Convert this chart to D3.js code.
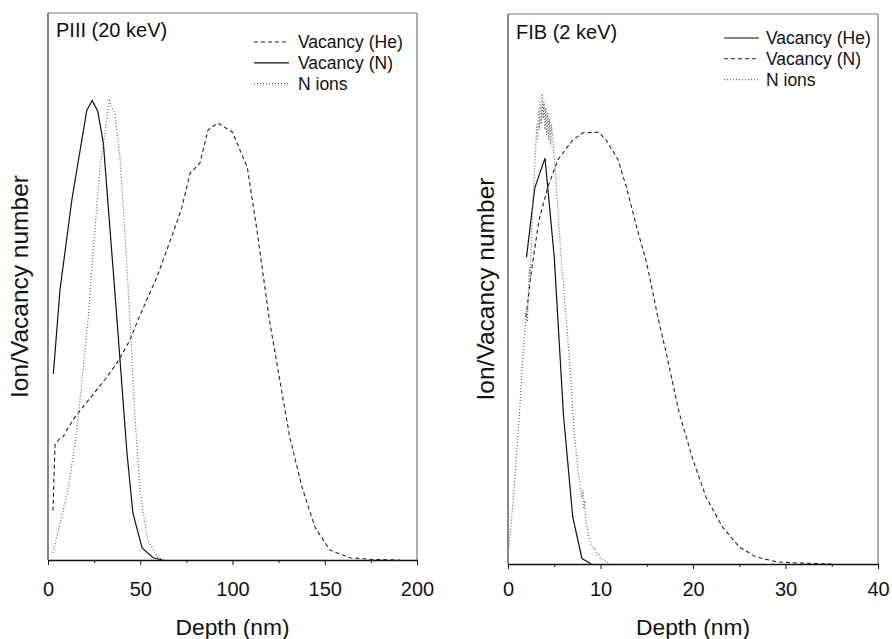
<!DOCTYPE html>
<html>
<head>
<meta charset="utf-8">
<script src="https://cdn.jsdelivr.net/npm/d3@7"></script>
<style>
  body { margin: 0; background: #fff; }
  svg text { font-family: "Liberation Sans", Arial, Helvetica, sans-serif; fill: #111; }
</style>
</head>
<body>
<svg width="892" height="639"></svg>
<script>
// PIII (20 keV) panel, depth in nm, counts in arbitrary units
const piiiVacHeDepth = [2.7, 3.8, 6.5, 8.1, 13.5, 19, 30.9, 37.4, 44.4, 48.8, 59, 67.8, 72.6, 77, 82.4, 86.7, 92, 100, 108, 113, 120, 124.7, 131, 137.7, 144.7, 152.8, 163.7, 176, 191]
const piiiVacHe = [0.09, 0.21, 0.223, 0.225, 0.256, 0.28, 0.33, 0.36, 0.402, 0.439, 0.517, 0.598, 0.645, 0.707, 0.726, 0.786, 0.799, 0.782, 0.718, 0.609, 0.439, 0.347, 0.225, 0.133, 0.06, 0.018, 0.004, 0.001, 0]
const piiiVacNDepth = [2.9, 6.5, 13, 21, 24, 27, 30, 37.4, 42.8, 46, 51, 57, 62]
const piiiVacN = [0.34, 0.494, 0.66, 0.822, 0.84, 0.82, 0.762, 0.439, 0.196, 0.086, 0.022, 0.004, 0]
const piiiIonDepth = [2.7, 10.8, 15.7, 18.4, 21.7, 24.4, 28.2, 30.9, 33.2, 36.3, 39, 41.7, 44.4, 47, 50, 54, 59.6, 64]
const piiiIon = [0.013, 0.128, 0.238, 0.329, 0.439, 0.561, 0.718, 0.781, 0.84, 0.814, 0.737, 0.598, 0.439, 0.269, 0.122, 0.037, 0.004, 0]

// FIB (2 keV) panel
const fibVacHeDepth = [2, 2.9, 4, 5, 6, 7, 8, 9]
const fibVacHe = [0.558, 0.684, 0.738, 0.558, 0.27, 0.085, 0.01, 0]
const fibVacNDepth = [1.95, 2.5, 3.35, 4.3, 5.4, 7, 8.1, 9.8, 10.6, 11.9, 12.8, 14, 15, 16.2, 17.1, 18.5, 20, 21.4, 23.2, 25, 26.8, 29, 31, 35]
const fibVacN = [0.449, 0.529, 0.625, 0.685, 0.735, 0.771, 0.784, 0.785, 0.771, 0.735, 0.685, 0.607, 0.547, 0.449, 0.384, 0.275, 0.189, 0.122, 0.067, 0.031, 0.013, 0.004, 0.002, 0]
const fibIonDepth = [0.1, 0.5, 1.0, 1.3, 1.6, 1.8, 2.0, 2.1, 2.3, 2.4, 2.6, 2.8, 3.0, 3.1, 3.2, 3.3, 3.4, 3.5, 3.6, 3.7, 3.8, 3.9, 4.0, 4.1, 4.2, 4.3, 4.4, 4.5, 4.6, 4.7, 4.8, 5.0, 5.2, 5.5, 5.8, 6.0, 6.2, 6.4, 6.6, 6.8, 7.0, 7.2, 7.5, 7.8, 8.0, 8.1, 8.2, 8.3, 8.4, 8.5, 8.7, 9.0, 9.2, 9.4, 9.6, 9.8, 10.0, 10.3, 10.6, 11.0]
const fibIon = [0.03, 0.104, 0.215, 0.29, 0.38, 0.42, 0.46, 0.44, 0.54, 0.52, 0.62, 0.69, 0.76, 0.8, 0.77, 0.83, 0.79, 0.84, 0.8, 0.855, 0.81, 0.84, 0.79, 0.83, 0.78, 0.82, 0.77, 0.81, 0.76, 0.8, 0.78, 0.74, 0.69, 0.62, 0.54, 0.51, 0.46, 0.425, 0.38, 0.33, 0.28, 0.235, 0.18, 0.14, 0.12, 0.135, 0.1, 0.115, 0.08, 0.07, 0.05, 0.035, 0.028, 0.03, 0.015, 0.02, 0.01, 0.008, 0.004, 0.001]

const piiiTicks = [0, 50, 100, 150, 200]
const piiiMinor = [25, 75, 125, 175]
const fibTicks = [0, 10, 20, 30, 40]
const fibMinor = [5, 15, 25, 35]

const piiiLegend = ["Vacancy (He)", "Vacancy (N)", "N ions"]
const fibLegend = ["Vacancy (He)", "Vacancy (N)", "N ions"]

const styles = {
  solid: { stroke: "#111", width: 1.2, dash: null },
  dashed: { stroke: "#222", width: 1.1, dash: "4,3" },
  dotted: { stroke: "#666", width: 1.2, dash: "1,2" }
}

var svg = d3.select("svg")

function drawPanel(p) {
  let x = d3.scaleLinear().domain([0, p.xMax]).range([p.left, p.right])
  let y = d3.scaleLinear().domain([0, 1]).range([p.bottom, p.top])
  let g = svg.append("g")

  // frame: gray left/top/right, black axis at the bottom
  g.append("line").attr("x1", p.left).attr("x2", p.left).attr("y1", p.top).attr("y2", p.bottom)
    .attr("stroke", "#888").attr("stroke-width", 2)
  g.append("line").attr("x1", p.left).attr("x2", p.right).attr("y1", p.top).attr("y2", p.top)
    .attr("stroke", "#777").attr("stroke-width", 1)
  g.append("line").attr("x1", p.right).attr("x2", p.right).attr("y1", p.top).attr("y2", p.bottom)
    .attr("stroke", "#777").attr("stroke-width", 1.2)

  let minorAxis = g.append("g")
    .attr("transform", "translate(0," + p.bottom + ")")
    .call(d3.axisBottom(x).tickValues(p.minor).tickSize(3).tickFormat(""))
  minorAxis.select(".domain").remove()
  minorAxis.selectAll("line").attr("stroke", "#222")

  let axis = g.append("g")
    .attr("transform", "translate(0," + p.bottom + ")")
    .call(d3.axisBottom(x).tickValues(p.ticks).tickSize(5).tickSizeOuter(0).tickPadding(p.pad))
  axis.select(".domain").attr("stroke", "#111").attr("stroke-width", 1.4)
  axis.selectAll("line").attr("stroke", "#111")
  axis.selectAll("text").style("font-size", "20px").attr("fill", "#111")
    .style("font-family", "'Liberation Sans', Arial, sans-serif")

  let line = d3.line().x(d => x(d[0])).y(d => y(d[1]))
  p.series.forEach(s => {
    let st = styles[s.style]
    g.append("path")
      .datum(d3.zip(s.depth, s.values))
      .attr("d", line)
      .attr("fill", "none")
      .attr("stroke", st.stroke)
      .attr("stroke-width", st.width)
      .attr("stroke-dasharray", st.dash)
  })

  g.append("text").attr("x", p.left + 8).attr("y", p.titleY)
    .style("font-size", "20px").text(p.title)

  p.series.forEach((s, i) => {
    let st = styles[s.style]
    let ly = p.legendY + i * 20.8
    g.append("line")
      .attr("x1", p.legendX).attr("x2", p.legendX + 35)
      .attr("y1", ly).attr("y2", ly)
      .attr("stroke", st.stroke).attr("stroke-width", st.width)
      .attr("stroke-dasharray", st.dash)
    g.append("text").attr("x", p.legendTextX).attr("y", ly + 6)
      .style("font-size", "17.5px").text(s.label)
  })

  g.append("text")
    .attr("x", (p.left + p.right) / 2).attr("y", 635)
    .attr("text-anchor", "middle").style("font-size", "22.8px")
    .text("Depth (nm)")

  g.append("text")
    .attr("transform", "translate(" + p.yLabelX + "," + (p.top + p.bottom) / 2 + ") rotate(-90)")
    .attr("text-anchor", "middle").style("font-size", "24.5px")
    .text("Ion/Vacancy number")
}

drawPanel({
  left: 48, right: 417, top: 13, bottom: 560, xMax: 200,
  ticks: piiiTicks, minor: piiiMinor, pad: 17,
  title: "PIII (20 keV)", titleY: 37,
  legendX: 254, legendTextX: 298, legendY: 42,
  yLabelX: 28,
  series: [
    { label: piiiLegend[0], style: "dashed", depth: piiiVacHeDepth, values: piiiVacHe },
    { label: piiiLegend[1], style: "solid", depth: piiiVacNDepth, values: piiiVacN },
    { label: piiiLegend[2], style: "dotted", depth: piiiIonDepth, values: piiiIon }
  ]
})

drawPanel({
  left: 508, right: 878, top: 14, bottom: 564, xMax: 40,
  ticks: fibTicks, minor: fibMinor, pad: 13,
  title: "FIB (2 keV)", titleY: 39,
  legendX: 724, legendTextX: 766, legendY: 38,
  yLabelX: 494,
  series: [
    { label: fibLegend[0], style: "solid", depth: fibVacHeDepth, values: fibVacHe },
    { label: fibLegend[1], style: "dashed", depth: fibVacNDepth, values: fibVacN },
    { label: fibLegend[2], style: "dotted", depth: fibIonDepth, values: fibIon }
  ]
})
</script>
</body>
</html>
